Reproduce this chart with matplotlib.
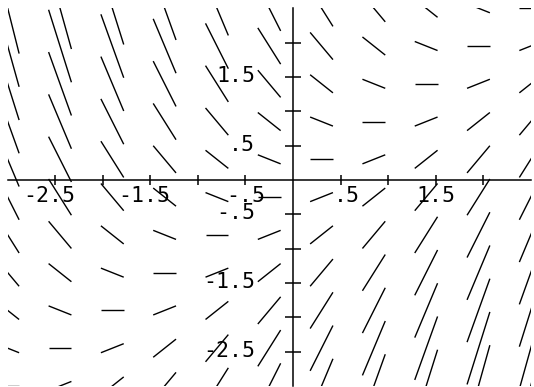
import matplotlib
matplotlib.use("Agg")
import matplotlib.pyplot as plt
import numpy as np
from matplotlib.collections import LineCollection
from matplotlib.patches import Rectangle

# Campo de pendientes de dy/dx = x - y, malla de la ventana [-3, 2.5]
grid_x = [-3.0, -2.45, -1.9, -1.35, -0.8, -0.25, 0.3, 0.85, 1.4, 1.95, 2.5]
grid_y = [-3.0, -2.45, -1.9, -1.35, -0.8, -0.25, 0.3, 0.85, 1.4, 1.95, 2.5]

# Marcas de los ejes y sus rotulos
ticks_x = [-2.5, -2.0, -1.5, -1.0, -0.5, 0.5, 1.0, 1.5, 2.0]
ticks_y = [-2.5, -2.0, -1.5, -1.0, -0.5, 0.5, 1.0, 1.5, 2.0]
rot_x_val = [-2.5, -1.5, -0.5, 0.5, 1.5]
rot_x_txt = ["-2.5", "-1.5", "-.5", ".5", "1.5"]
rot_y_val = [1.5, 0.5, -0.5, -1.5, -2.5]
rot_y_txt = ["1.5", ".5", "-.5", "-1.5", "-2.5"]


def pendiente(x, y):
    return x - y


fig = plt.figure(figsize=(5.34, 3.87), dpi=100)
ax = fig.add_axes([0, 0, 1, 1])
ax.set_xlim(-3.081, 2.534)
ax.set_ylim(-3.015, 2.62)

# cada segmento tiene el mismo semiancho horizontal (unidades de datos)
hw = 0.12
segs = []
for xc in grid_x:
    for yc in grid_y:
        m = pendiente(xc, yc)
        segs.append([(xc - hw, yc - m * hw), (xc + hw, yc + m * hw)])
lc = LineCollection(segs, colors="black", linewidths=1.0)
ax.add_collection(lc)
# la ventana de graficado recorta los segmentos en [-3, 2.5]
ventana = Rectangle((-3.0, -3.0), 5.5, 5.5, transform=ax.transData,
                    fill=False, visible=False)
ax.add_patch(ventana)
lc.set_clip_path(ventana)

# ejes cruzados en el origen
for lado in ["top", "right"]:
    ax.spines[lado].set_visible(False)
ax.spines["left"].set_position(("data", 0))
ax.spines["bottom"].set_position(("data", 0))
ax.spines["left"].set_bounds(-3.0, 2.5)
ax.spines["bottom"].set_bounds(-3.0, 2.5)
for lado in ["left", "bottom"]:
    ax.spines[lado].set_linewidth(1.1)
ax.set_xticks(ticks_x)
ax.set_yticks(ticks_y)
ax.set_xticklabels([])
ax.set_yticklabels([])
ax.tick_params(axis="x", direction="inout", length=7.2, width=1.1)
ax.tick_params(axis="y", direction="inout", length=11.5, width=1.1)

# rotulos con el punto decimal sobre la marca
adv = 13
fuente = dict(family="DejaVu Sans Mono", fontsize=15.5)
for v, t in zip(rot_x_val, rot_x_txt):
    k = t.index(".")
    off = (len(t) / 2 - k - 0.5) * adv
    ax.annotate(t, (v, 0), xytext=(off, -22), textcoords="offset pixels",
                ha="center", va="baseline", **fuente)
for v, t in zip(rot_y_val, rot_y_txt):
    ax.annotate(t, (0, v), xytext=(-38, -5), textcoords="offset pixels",
                ha="right", va="baseline", **fuente)

fig.savefig("out.png", dpi=100)
